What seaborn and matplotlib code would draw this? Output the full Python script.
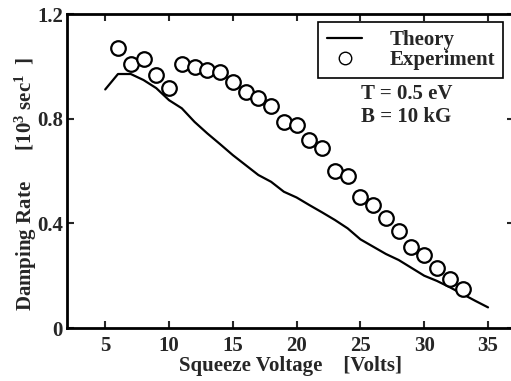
import matplotlib
matplotlib.use("Agg")
import matplotlib.pyplot as plt
import seaborn as sns
from matplotlib.lines import Line2D

sns.set_theme(style="ticks")
plt.rcParams["font.family"] = ["Liberation Serif", "DejaVu Serif"]
plt.rcParams["font.weight"] = "bold"
plt.rcParams["mathtext.fontset"] = "custom"
plt.rcParams["mathtext.rm"] = "Liberation Serif:bold"
plt.rcParams["mathtext.it"] = "Liberation Serif:bold"
plt.rcParams["mathtext.default"] = "rm"

theory_v = [5, 6, 7, 8, 9, 10, 11, 12, 13, 14, 15, 16, 17, 18, 19, 20,
            21, 22, 23, 24, 25, 26, 27, 28, 29, 30, 31, 32, 33, 34, 35]
theory_rate = [0.912, 0.971, 0.971, 0.948, 0.917, 0.871, 0.840, 0.788, 0.744,
               0.703, 0.661, 0.623, 0.585, 0.559, 0.521, 0.499, 0.470, 0.442,
               0.413, 0.381, 0.339, 0.311, 0.283, 0.260, 0.230, 0.200, 0.180,
               0.156, 0.130, 0.104, 0.079]

exp_v = [6, 7, 8, 9, 10, 11, 12, 13, 14, 15, 16, 17, 18, 19, 20, 21, 22,
         23, 24, 25, 26, 27, 28, 29, 30, 31, 32, 33]
exp_rate = [1.069, 1.009, 1.028, 0.967, 0.918, 1.009, 0.996, 0.988, 0.978,
            0.940, 0.901, 0.878, 0.848, 0.787, 0.778, 0.718, 0.689, 0.599,
            0.581, 0.499, 0.470, 0.419, 0.371, 0.311, 0.279, 0.230, 0.188,
            0.149]

xticks = [5, 10, 15, 20, 25, 30, 35]
yticks = [0, 0.4, 0.8, 1.2]
ytick_labels = ["0", "0.4", "0.8", "1.2"]

fs = 15

fig = plt.figure(figsize=(5.11, 3.81), dpi=100)
ax = fig.add_axes([0.131, 0.139, 0.874, 0.824])

sns.lineplot(x=theory_v, y=theory_rate, color="black", linewidth=1.6, ax=ax)
sns.scatterplot(x=exp_v, y=exp_rate, s=110, facecolor="white",
                edgecolor="black", linewidth=1.6, zorder=3, ax=ax)

ax.set_xlim(2, 37)
ax.set_ylim(0, 1.2)
ax.set_xticks(xticks)
ax.set_yticks(yticks)
ax.set_yticklabels(ytick_labels)
ax.tick_params(direction="in", length=5, width=1.5, labelsize=fs,
               top=True, right=True, pad=3)
ax.tick_params(axis="x", pad=6)
for lab in ax.get_xticklabels() + ax.get_yticklabels():
    lab.set_fontweight("bold")
for sp in ax.spines.values():
    sp.set_linewidth(2)
    sp.set_color("black")

ax.set_xlabel("Squeeze Voltage    [Volts]", fontsize=fs, fontweight="bold",
              labelpad=0)
ax.set_ylabel("Damping Rate      [10$^3$ sec$^1$  ]", fontsize=fs,
              fontweight="bold", labelpad=0)
ax.yaxis.set_label_coords(-0.063, 0.46)

handles = [Line2D([], [], color="black", linewidth=1.6),
           Line2D([], [], marker="o", linestyle="none", markersize=9,
                  markerfacecolor="white", markeredgecolor="black",
                  markeredgewidth=1)]
leg = ax.legend(handles, ["Theory", "Experiment"], loc="upper right",
                bbox_to_anchor=(0.977, 0.975), fancybox=False, framealpha=1,
                edgecolor="black", fontsize=fs, borderpad=0.4,
                handlelength=1.7, labelspacing=-0.02, handletextpad=1.3,
                borderaxespad=0)
leg.get_frame().set_linewidth(1.2)
for t in leg.get_texts():
    t.set_fontweight("bold")

ax.text(28.6, 0.894, "T = 0.5 eV", fontsize=fs, fontweight="bold",
        ha="center", va="center")
ax.text(28.6, 0.808, "B = 10 kG", fontsize=fs, fontweight="bold",
        ha="center", va="center")

fig.savefig("out.png", dpi=100)
